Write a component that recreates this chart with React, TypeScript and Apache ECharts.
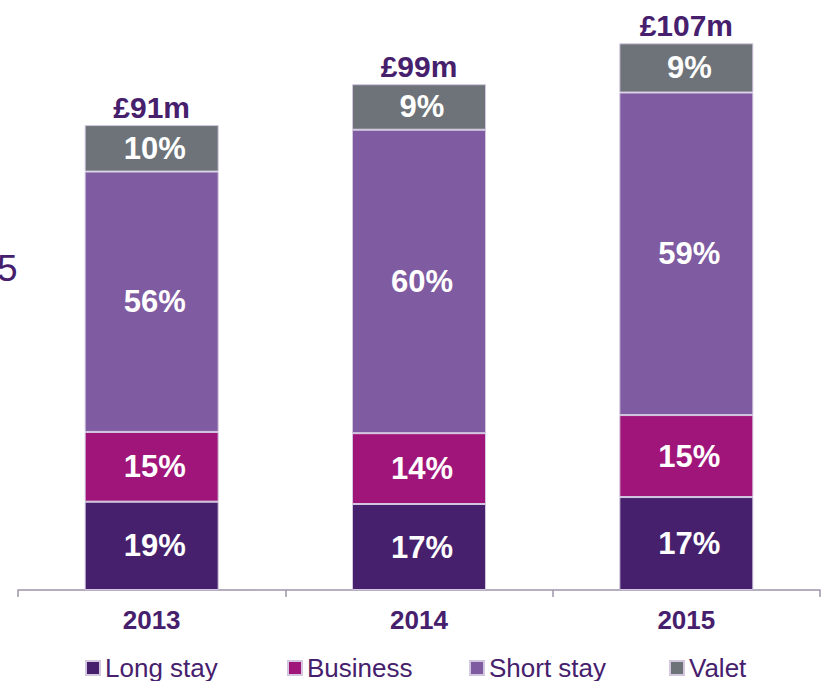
import React, { useEffect, useRef } from "react";
import * as echarts from "echarts";

const years = ["2013", "2014", "2015"];
const totals = [91, 99, 107];
const longStayPct = [19, 17, 17];
const businessPct = [15, 14, 15];
const shortStayPct = [56, 60, 59];
const valetPct = [10, 9, 9];

const FONT = '"Liberation Sans", Arial, sans-serif';
const DARK = "#46206D";

const seriesDefs = [
  { name: "Long stay", pct: longStayPct, color: "#46206D", legendLeft: 85 },
  { name: "Business", pct: businessPct, color: "#A0157A", legendLeft: 287 },
  { name: "Short stay", pct: shortStayPct, color: "#7F5BA1", legendLeft: 469 },
  { name: "Valet", pct: valetPct, color: "#6D7378", legendLeft: 669 },
];

export default function App() {
  const ref = useRef<HTMLDivElement>(null);
  useEffect(() => {
    if (!ref.current) return;
    const chart = echarts.init(ref.current, null, { renderer: "svg" });
    const barSeries = seriesDefs.map((s) => ({
      name: s.name,
      type: "bar",
      stack: "total",
      barWidth: 134,
      itemStyle: { color: s.color, borderColor: "#D2C7DF", borderWidth: 1 },
      label: {
        show: true,
        position: "inside",
        color: "#FFFFFF",
        fontSize: 31,
        fontWeight: "bold",
        fontFamily: FONT,
        offset: [3, 0],
        formatter: (p: any) => `${s.pct[p.dataIndex]}%`,
      },
      data: s.pct.map((v, i) => (v * totals[i]) / 100),
    }));
    chart.setOption({
      animation: false,
      grid: { left: 18, right: 3, top: 28, bottom: 91, containLabel: false },
      legend: seriesDefs.map((s) => ({
        data: [s.name],
        left: s.legendLeft,
        top: 655,
        padding: 0,
        icon: "rect",
        itemWidth: 14,
        itemHeight: 14,
        textStyle: { color: DARK, fontSize: 26, fontFamily: FONT, lineHeight: 26 },
      })),
      xAxis: {
        type: "category",
        data: years,
        axisLine: { show: true, lineStyle: { color: "#9E94AB", width: 1.5 } },
        axisTick: { show: true, length: 7, lineStyle: { color: "#9E94AB", width: 1.5 } },
        axisLabel: {
          color: DARK,
          fontSize: 26,
          fontWeight: "bold",
          fontFamily: FONT,
          margin: 17,
        },
      },
      yAxis: {
        type: "value",
        min: 0,
        max: 110,
        show: false,
        splitLine: { show: false },
      },
      graphic: [
        {
          type: "text",
          left: -3,
          top: 250,
          style: { text: "5", fill: DARK, fontSize: 37, fontFamily: FONT },
        },
      ],
      series: [
        ...barSeries,
        {
          name: "Total",
          type: "scatter",
          symbolSize: 0,
          silent: true,
          itemStyle: { opacity: 1, color: "transparent" },
          label: {
            show: true,
            position: "top",
            distance: 3,
            color: DARK,
            opacity: 1,
            fontSize: 30,
            fontWeight: "bold",
            fontFamily: FONT,
            formatter: (p: any) => `£${totals[p.dataIndex]}m`,
          },
          data: totals,
        },
      ],
    });
    return () => chart.dispose();
  }, []);
  return (
    <div
      ref={ref}
      style={{ position: "fixed", left: 0, top: 0, width: 823, height: 681, background: "#fff" }}
    />
  );
}
